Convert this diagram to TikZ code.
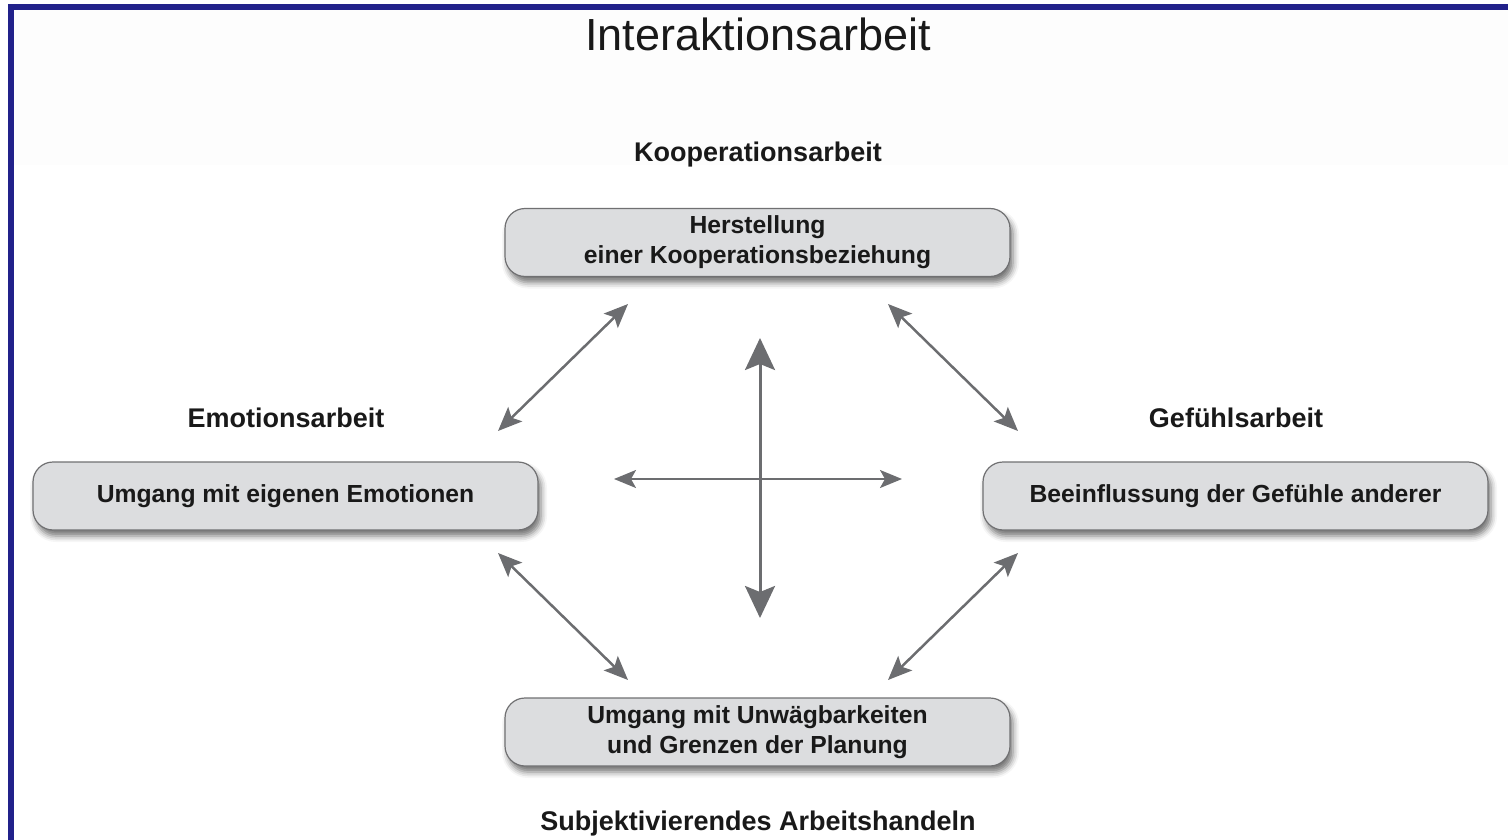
\documentclass[tikz,border=0pt]{standalone}
\usepackage{fontspec}
\setmainfont{Liberation Sans}
\usetikzlibrary{shadows.blur,arrows.meta}
\definecolor{framecol}{RGB}{33,33,138}
\definecolor{boxfill}{RGB}{220,221,223}
\definecolor{boxline}{RGB}{112,112,114}
\definecolor{arrowcol}{RGB}{108,109,112}
\definecolor{bandcol}{RGB}{253,253,253}
\definecolor{txt}{RGB}{25,25,25}
\begin{document}
\begin{tikzpicture}[x=1pt,y=-1pt,
  box/.style={draw=boxline, line width=1.2pt, fill=boxfill, rounded corners=20pt,
    minimum width=505pt, minimum height=68pt, align=center, inner sep=0pt,
    font=\fontsize{24.7}{30}\selectfont\bfseries, text=txt,
    blur shadow={shadow xshift=3pt, shadow yshift=-6pt, shadow blur radius=6pt, shadow opacity=55}},
  lab/.style={font=\fontsize{27}{32}\selectfont\bfseries, text=txt},
  diag/.style={draw=arrowcol, line width=2.5pt,
    {Stealth[length=24pt,width=20pt,inset=5pt]}-{Stealth[length=24pt,width=20pt,inset=5pt]}},
  vert/.style={draw=arrowcol, line width=3pt,
    {Stealth[length=32pt,width=30pt,inset=6pt]}-{Stealth[length=32pt,width=30pt,inset=6pt]}},
  horiz/.style={draw=arrowcol, line width=2pt,
    {Stealth[length=22pt,width=18pt,inset=5pt]}-{Stealth[length=22pt,width=18pt,inset=5pt]}}
]
\useasboundingbox (0,0) rectangle (1508,840);
% background band and frame
\fill[bandcol] (14,10) rectangle (1508,165);
\fill[framecol] (8,4) rectangle (1508,10);
\fill[framecol] (8,4) rectangle (14,840);

% title and labels
\node[font=\fontsize{45}{50}\selectfont, text=txt] (title) at (758,34) {Interaktionsarbeit};
\node[lab] (koop) at (758,155) {Kooperationsarbeit};
\node[lab] (emo) at (286,418) {Emotionsarbeit};
\node[lab] (gef) at (1236,418) {Gefühlsarbeit};
\node[lab] (subj) at (758,824) {Subjektivierendes Arbeitshandeln};

% boxes
\node[box] (top) at (757.5,242.5) {Herstellung\\einer Kooperationsbeziehung};
\node[box] (left) at (285.5,496) {Umgang mit eigenen Emotionen};
\node[box] (right) at (1235.5,496) {Beeinflussung der Gefühle anderer};
\node[box] (bottom) at (757.5,732) {Umgang mit Unwägbarkeiten\\und Grenzen der Planung};

% arrow end points
\coordinate (tlA) at (498,431);
\coordinate (tlB) at (628,304);
\coordinate (trA) at (888,304);
\coordinate (trB) at (1018,431);
\coordinate (blA) at (498,553);
\coordinate (blB) at (628,680);
\coordinate (brA) at (1018,553);
\coordinate (brB) at (888,680);
\coordinate (vT) at (760,338);
\coordinate (vB) at (760,618);
\coordinate (hL) at (614,479);
\coordinate (hR) at (902,479);

\draw[diag] (tlA) -- (tlB);
\draw[diag] (trA) -- (trB);
\draw[diag] (blA) -- (blB);
\draw[diag] (brA) -- (brB);
\draw[horiz] (hL) -- (hR);
\draw[vert] (vT) -- (vB);
\end{tikzpicture}
\end{document}
